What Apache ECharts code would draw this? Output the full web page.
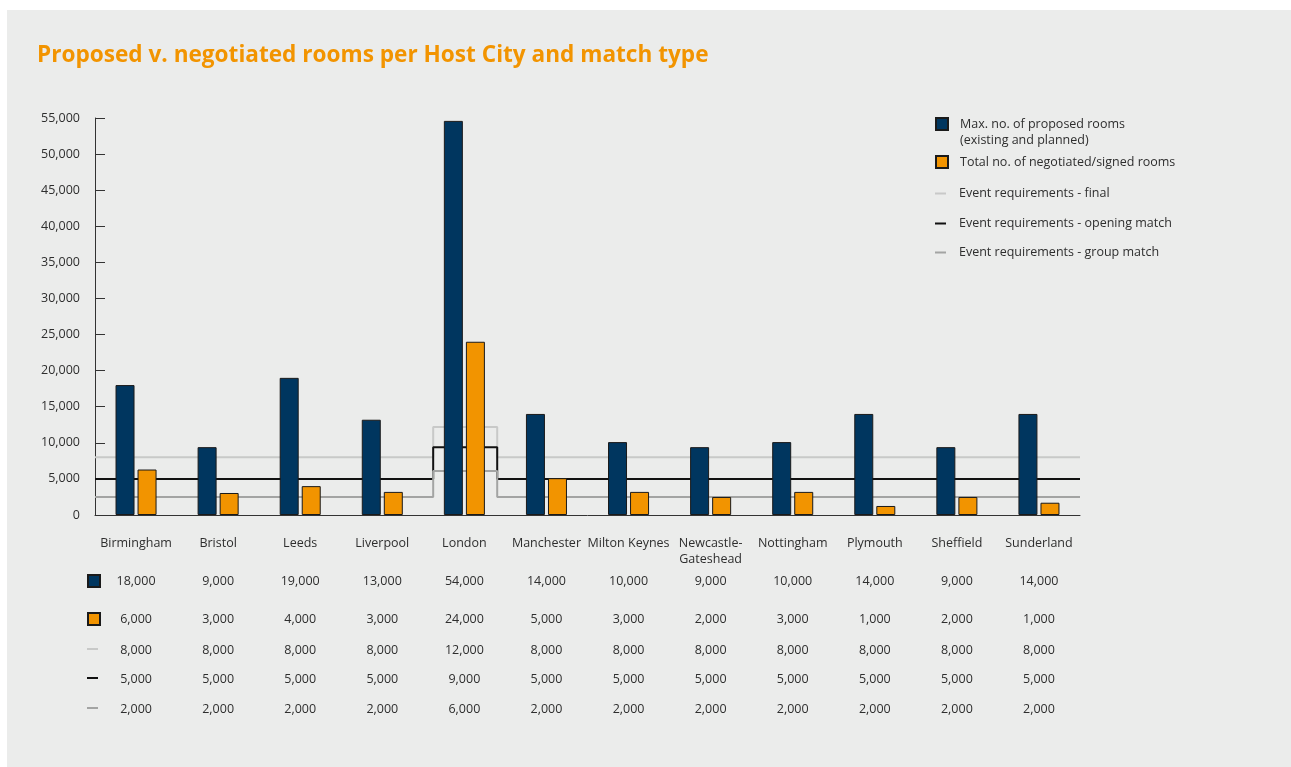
<!DOCTYPE html>
<html>
<head>
<meta charset="utf-8">
<script src="https://cdn.jsdelivr.net/npm/echarts@6/dist/echarts.min.js"></script>
<style>
  html, body { margin: 0; padding: 0; background: #ffffff; }
  #panel { position: absolute; left: 7px; top: 10px; width: 1284px; height: 757px; background: #ebeceb; }
  #chart { position: absolute; left: 0; top: 0; width: 1291px; height: 767px; }
</style>
</head>
<body>
<div id="panel"></div>
<div id="chart"></div>
<script>
// host cities
const cities = ['Birmingham', 'Bristol', 'Leeds', 'Liverpool', 'London', 'Manchester',
  'Milton Keynes', 'Newcastle-\nGateshead', 'Nottingham', 'Plymouth', 'Sheffield', 'Sunderland']

// bar heights as drawn
const proposedRooms = [18000, 9400, 19000, 13200, 54600, 14000, 10100, 9400, 10100, 14000, 9400, 14000]
const negotiatedRooms = [6300, 3050, 4000, 3200, 24000, 5100, 3200, 2500, 3200, 1250, 2500, 1700]

// event requirement lines as drawn
const finalReq = [8000, 8000, 8000, 8000, 12200, 8000, 8000, 8000, 8000, 8000, 8000, 8000]
const openingReq = [5000, 5000, 5000, 5000, 9400, 5000, 5000, 5000, 5000, 5000, 5000, 5000]
const groupReq = [2500, 2500, 2500, 2500, 6100, 2500, 2500, 2500, 2500, 2500, 2500, 2500]

// table values under the chart
const proposedTable = [18000, 9000, 19000, 13000, 54000, 14000, 10000, 9000, 10000, 14000, 9000, 14000]
const negotiatedTable = [6000, 3000, 4000, 3000, 24000, 5000, 3000, 2000, 3000, 1000, 2000, 1000]
const finalTable = [8000, 8000, 8000, 8000, 12000, 8000, 8000, 8000, 8000, 8000, 8000, 8000]
const openingTable = [5000, 5000, 5000, 5000, 9000, 5000, 5000, 5000, 5000, 5000, 5000, 5000]
const groupTable = [2000, 2000, 2000, 2000, 6000, 2000, 2000, 2000, 2000, 2000, 2000, 2000]

const yTicks = { min: 0, max: 55000, interval: 5000 }

const NAMES = {
  proposed: 'Max. no. of proposed rooms\n(existing and planned)',
  negotiated: 'Total no. of negotiated/signed rooms',
  final: 'Event requirements - final',
  opening: 'Event requirements - opening match',
  group: 'Event requirements - group match'
}
const COLORS = {
  proposed: '#00365f',
  negotiated: '#f29400',
  final: '#c8c9c8',
  opening: '#111111',
  group: '#a3a4a3'
}
const FONT = 'Open Sans'
const TEXT = '#2e2e2e'
const fmt = v => v.toLocaleString('en-US')

// step line: vertical jumps sit a little inside the category that is higher
const stepPoints = vals => {
  const pts = [[0, vals[0]]]
  for (let i = 0; i < vals.length - 1; i++) {
    const sx = vals[i + 1] > vals[i] ? i + 1.12 : i + 0.9
    pts.push([sx, vals[i]], [sx, vals[i + 1]])
  }
  pts.push([vals.length, vals[vals.length - 1]])
  return pts
}

const chart = echarts.init(document.getElementById('chart'))

const legendItem = (key, top, left, opts) => Object.assign({
  orient: 'vertical',
  left: left,
  top: top,
  padding: 0,
  data: [{ name: NAMES[key] }],
  selectedMode: false,
  itemWidth: 12,
  itemHeight: 12,
  itemGap: 0,
  textStyle: { fontFamily: FONT, fontSize: 12.5, color: TEXT, padding: [0, 0, 0, 7] }
}, opts)

const squareIcon = { icon: 'rect', itemWidth: 12, itemHeight: 12 }
const lineIcon = {
  icon: 'rect', itemWidth: 11, itemHeight: 2,
  textStyle: { fontFamily: FONT, fontSize: 12.5, color: TEXT, padding: [0, 0, 0, 8] }
}

const legends = [
  // blank line above the name keeps the icon level with the first line
  legendItem('proposed', 100, 935, Object.assign({}, squareIcon, {
    formatter: name => ' \n' + name,
    textStyle: { fontFamily: FONT, fontSize: 12.5, color: TEXT, lineHeight: 16, padding: [0, 0, 0, 7] }
  })),
  legendItem('negotiated', 155, 935, squareIcon),
  legendItem('final', 187, 935, lineIcon),
  legendItem('opening', 217, 935, lineIcon),
  legendItem('group', 246, 935, lineIcon)
]
// icons in front of the table rows
const rowCenters = [580, 618, 649, 678, 708]
const rowKeys = ['proposed', 'negotiated', 'final', 'opening', 'group']
rowKeys.forEach((k, i) => {
  const isBar = i < 2
  legends.push(legendItem(k, isBar ? rowCenters[i] - 6 : rowCenters[i] - 1, 87, Object.assign({}, isBar ? squareIcon : lineIcon, {
    formatter: () => '',
    textStyle: { fontSize: 1 }
  })))
})

// table rows drawn as extra label-only category axes
const tableRows = [proposedTable, negotiatedTable, finalTable, openingTable, groupTable]
const tableAxes = tableRows.map((row, i) => ({
  type: 'category',
  gridIndex: 0,
  position: 'bottom',
  offset: rowCenters[i] - 515 - 5,
  data: row.map(fmt),
  axisLine: { show: false },
  axisTick: { show: false },
  splitLine: { show: false },
  axisLabel: { margin: 0, interval: 0, fontFamily: FONT, fontSize: 12.5, color: TEXT }
}))

const option = {
  animation: false,
  backgroundColor: 'transparent',
  title: {
    text: 'Proposed v. negotiated rooms per Host City and match type',
    left: 32,
    top: 39,
    textStyle: { fontFamily: FONT, fontSize: 22.6, fontWeight: 'bold', color: '#f29400' }
  },
  legend: legends,
  grid: { left: 95, right: 211, top: 118, bottom: 252, containLabel: false },
  xAxis: [
    {
      type: 'category',
      data: cities,
      boundaryGap: true,
      axisLine: { lineStyle: { color: '#333333', width: 1 } },
      axisTick: { inside: true, length: 7, lineStyle: { color: '#333333' } },
      axisLabel: { interval: 0, margin: 20, fontFamily: FONT, fontSize: 12.5, color: TEXT, lineHeight: 16 }
    },
    {
      type: 'value',
      gridIndex: 0,
      min: 0,
      max: cities.length,
      show: false
    }
  ].concat(tableAxes),
  yAxis: {
    type: 'value',
    min: yTicks.min,
    max: yTicks.max,
    interval: yTicks.interval,
    axisLine: { show: true, lineStyle: { color: '#333333', width: 1 } },
    axisTick: { show: true, inside: true, length: 10, lineStyle: { color: '#333333' } },
    splitLine: { show: false },
    axisLabel: { margin: 15, fontFamily: FONT, fontSize: 12.5, color: TEXT, formatter: v => fmt(v) }
  },
  series: [
    {
      name: NAMES.proposed,
      type: 'bar',
      xAxisIndex: 0,
      data: proposedRooms,
      barWidth: 19,
      barGap: '16%',
      z: 3,
      itemStyle: { color: COLORS.proposed, borderColor: '#1a1a1a', borderWidth: 1 }
    },
    {
      name: NAMES.negotiated,
      type: 'bar',
      xAxisIndex: 0,
      data: negotiatedRooms,
      barWidth: 19,
      z: 3,
      itemStyle: { color: COLORS.negotiated, borderColor: '#1a1a1a', borderWidth: 1 }
    },
    {
      name: NAMES.final,
      type: 'line',
      xAxisIndex: 1,
      data: stepPoints(finalReq),
      symbol: 'none',
      z: 1,
      color: COLORS.final,
      lineStyle: { color: COLORS.final, width: 2 }
    },
    {
      name: NAMES.opening,
      type: 'line',
      xAxisIndex: 1,
      data: stepPoints(openingReq),
      symbol: 'none',
      z: 1,
      color: COLORS.opening,
      lineStyle: { color: COLORS.opening, width: 2 }
    },
    {
      name: NAMES.group,
      type: 'line',
      xAxisIndex: 1,
      data: stepPoints(groupReq),
      symbol: 'none',
      z: 1,
      color: COLORS.group,
      lineStyle: { color: COLORS.group, width: 2 }
    }
  ]
}

chart.setOption(option)
window.addEventListener('resize', () => chart.resize())
</script>
</body>
</html>
